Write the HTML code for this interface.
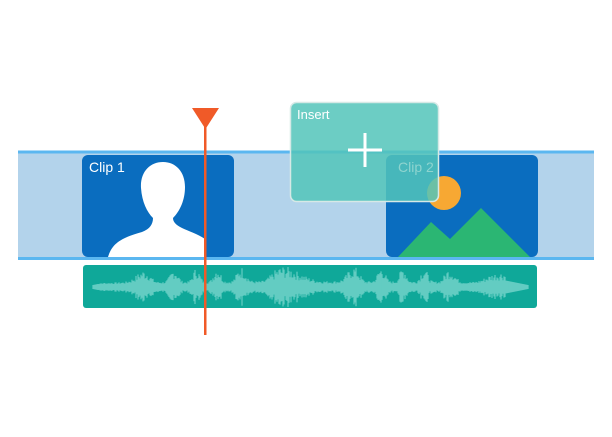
<!DOCTYPE html>
<html><head><meta charset="utf-8"><style>
html,body{margin:0;padding:0;background:#fff;width:612px;height:437px;overflow:hidden}
svg{display:block}
text{font-family:"Liberation Sans",sans-serif}
</style></head><body>
<svg width="612" height="437" viewBox="0 0 612 437" xmlns="http://www.w3.org/2000/svg">
<rect x="18" y="151" width="576" height="108" fill="#b3d3eb"/>
<rect x="18" y="150.5" width="576" height="3" fill="#5bb7f0"/>
<rect x="18" y="257" width="576" height="3" fill="#5bb7f0"/>
<rect x="82" y="155" width="152" height="102" rx="6" fill="#0a6dbf"/>
<text x="89" y="172" font-size="14" fill="#fff">Clip 1</text>
<path d="M163 162 C150 162 140 172 141 188 C142 202 147 212 153 218 C153 224 150 229 142 232 C120 238 112 244 108 257 L205 257 L205 239 C198 234 188 231 182 228 C176 225 173 222 173 218 C180 211 185 200 185 187 C185 172 176 162 163 162 Z" fill="#fff"/>
<rect x="386" y="155" width="152" height="102" rx="6" fill="#0a6dbf"/>
<circle cx="444" cy="193" r="17" fill="#f7a833"/>
<path d="M398 257 L431 222 L450 239 L481 208 L530 257 Z" fill="#2bb673"/>
<rect x="83" y="265" width="454" height="43" rx="3" fill="#0fa899"/>
<g id="wave" stroke="#63ccc2" stroke-width="1.2"></g>
<rect x="290.5" y="102.5" width="148" height="99" rx="6" fill="rgba(82,196,186,0.85)" stroke="#d6e9e6" stroke-width="1.5"/>
<text x="297" y="119" font-size="13" fill="#fff">Insert</text>
<text x="398" y="172" font-size="14" fill="rgba(150,215,210,0.9)">Clip 2</text>
<rect x="348" y="148.5" width="34" height="3" fill="#fff"/>
<rect x="363.5" y="133" width="3" height="34" fill="#fff"/>
<rect x="204" y="120" width="2.5" height="215" fill="#f05a28"/>
<path d="M192 108 L219 108 L205.5 129 Z" fill="#f05a28"/>
</svg>
<script>
var g=document.getElementById('wave'),s='',seed=7;
function r(){seed=(seed*9301+49297)%233280;return seed/233280;}
for(var x=93;x<=528;x+=1){
 var t=(x-93)/435;var env=0.35+0.65*Math.pow(Math.sin(Math.PI*t),0.4);
 var burst=Math.pow(Math.abs(Math.sin(x*0.09+Math.sin(x*0.031)*2)),4);
 var h=(2+env*(4+burst*15)*(0.35+0.65*r()));
 if(x<110||x>505)h=Math.min(h,2+ (x<110?(x-93)/5:(528-x)/5));
 s+='<line x1="'+x+'" x2="'+x+'" y1="'+(287-h)+'" y2="'+(287+h)+'"/>';
}
g.innerHTML=s;
</script>
</body></html>
